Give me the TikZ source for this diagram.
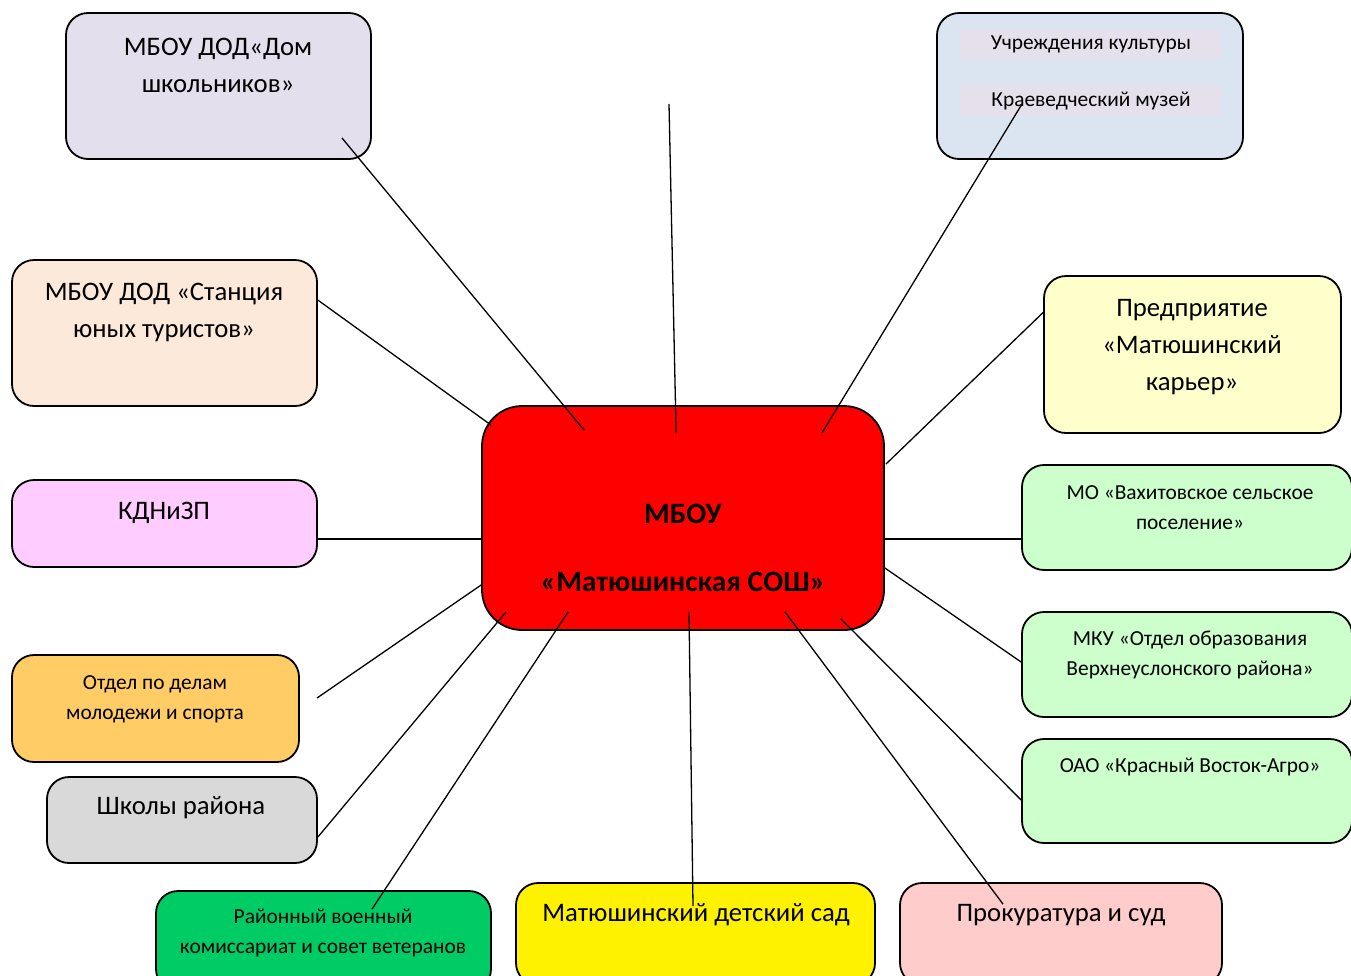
\documentclass[tikz,border=0pt]{standalone}
\usepackage{fontspec}
\setmainfont{Carlito}
\usetikzlibrary{calc}

\definecolor{lilac}{HTML}{E4DFEC}
\definecolor{skyish}{HTML}{DBE5F1}
\definecolor{strip}{HTML}{E6E0EC}
\definecolor{peach}{HTML}{FDE9D9}
\definecolor{lemon}{HTML}{FFFFCC}
\definecolor{orchid}{HTML}{FFCCFF}
\definecolor{mint}{HTML}{CCFFCC}
\definecolor{apricot}{HTML}{FFCC66}
\definecolor{greyish}{HTML}{D9D9D9}
\definecolor{grass}{HTML}{00CC66}
\definecolor{rose}{HTML}{FFCCCC}

\tikzset{
  box/.style={draw, line width=1.8pt, rounded corners=22pt},
  big/.style={font=\fontsize{26.7}{37}\selectfont, align=center},
  small/.style={font=\fontsize{21.4}{30}\selectfont, align=center},
  link/.style={line width=1.3pt},
}

\begin{document}
\begin{tikzpicture}[x=1pt, y=-1pt]
\useasboundingbox (0,0) rectangle (1351,975);
% Центр
\node[box, fill=red, rounded corners=40pt, minimum width=402pt, minimum height=224pt] (mbou) at (683,518) {};
\node[big, font=\fontsize{29.5}{34}\selectfont\bfseries] (mbou-t) at (683,548) {МБОУ\\[34pt]«Матюшинская СОШ»};
% Слева
\node[box, fill=lilac, minimum width=305pt, minimum height=146pt] (dom) at (218.5,86) {};
\node[big] (dom-t) at (218,65.5) {МБОУ ДОД«Дом\\школьников»};
\node[box, fill=peach, minimum width=305pt, minimum height=146pt] (tur) at (164.5,333) {};
\node[big] (tur-t) at (164,312.5) {МБОУ ДОД «Станция\\юных туристов»};
\node[box, fill=orchid, minimum width=305pt, minimum height=87pt] (kdn) at (164.5,523.5) {};
\node[big] (kdn-t) at (164,513) {КДНиЗП};
\node[box, fill=apricot, minimum width=287pt, minimum height=107pt] (molod) at (155.5,708.5) {};
\node[small] (molod-t) at (155,699) {Отдел по делам\\молодежи и спорта};
\node[box, fill=greyish, minimum width=270pt, minimum height=86pt] (shk) at (182,820) {};
\node[big] (shk-t) at (181,808) {Школы района};
% Снизу
\node[box, fill=grass, minimum width=335pt, minimum height=100pt] (voenk) at (323.5,941) {};
\node[small] (voenk-t) at (323,933) {Районный военный\\комиссариат и совет ветеранов};
\node[box, fill=yellow, minimum width=359pt, minimum height=102pt] (sad) at (695.5,934) {};
\node[big] (sad-t) at (696,915) {Матюшинский детский сад};
\node[box, fill=rose, minimum width=322pt, minimum height=102pt] (prok) at (1061,934) {};
\node[big] (prok-t) at (1061,915) {Прокуратура и суд};
% Справа
\node[box, fill=skyish, minimum width=306pt, minimum height=146pt] (kult) at (1090,86) {};
\node[small, fill=strip, minimum width=262pt, minimum height=28pt] (kult-a) at (1091,44) {Учреждения культуры};
\node[small, fill=strip, minimum width=262pt, minimum height=30pt] (kult-b) at (1091,101) {Краеведческий музей};
\node[box, fill=lemon, minimum width=297pt, minimum height=157pt] (karer) at (1192.5,354.5) {};
\node[big] (karer-t) at (1192,347.5) {Предприятие\\«Матюшинский\\карьер»};
\node[box, fill=mint, minimum width=330pt, minimum height=105pt] (mo) at (1187,517.5) {};
\node[small] (mo-t) at (1190,508) {МО «Вахитовское сельское\\поселение»};
\node[box, fill=mint, minimum width=330pt, minimum height=105pt] (mku) at (1187,664.5) {};
\node[small] (mku-t) at (1190,655) {МКУ «Отдел образования\\Верхнеуслонского района»};
\node[box, fill=mint, minimum width=330pt, minimum height=104pt] (oao) at (1187,791) {};
\node[small] (oao-t) at (1190,767) {ОАО «Красный Восток-Агро»};
% Линии связи
\coordinate (verh) at (669,104);
\coordinate (molod-k) at (317,698);
\draw[link] ($(dom.south east)+(-30,-22)$) -- ($(mbou.north west)+(103,25)$);
\draw[link] (verh) -- ($(mbou.north west)+(195,28)$);
\draw[link] ($(kult-b.center)+(-69,3)$) -- ($(mbou.north east)+(-63,28)$);
\draw[link] ($(tur.north east)+(0,41)$) -- ($(mbou.north west)+(10,20)$);
\draw[link] ($(karer.west)+(0,-42)$) -- ($(mbou.north east)+(1,59)$);
\draw[link] ($(kdn.east)+(0,15.5)$) -- ($(mbou.west)+(0,21)$);
\draw[link] ($(mbou.east)+(0,21)$) -- ($(mo.west)+(0,21.5)$);
\draw[link] (molod-k) -- ($(mbou.west)+(0,67)$);
\draw[link] ($(mbou.east)+(0,50)$) -- ($(mku.west)+(0,-2.5)$);
\draw[link] ($(shk.east)+(0,17)$) -- ($(mbou.south west)+(25,-19)$);
\draw[link] ($(mbou.south east)+(-44,-12)$) -- ($(oao.west)+(0,9)$);
\draw[link] ($(voenk.north)+(48.5,19)$) -- ($(mbou.south west)+(87,-19)$);
\draw[link] ($(sad.north)+(-2.5,24)$) -- ($(mbou.south)+(6,-19)$);
\draw[link] ($(prok.north)+(-58,22)$) -- ($(mbou.south)+(102,-19)$);
\end{tikzpicture}
\end{document}
